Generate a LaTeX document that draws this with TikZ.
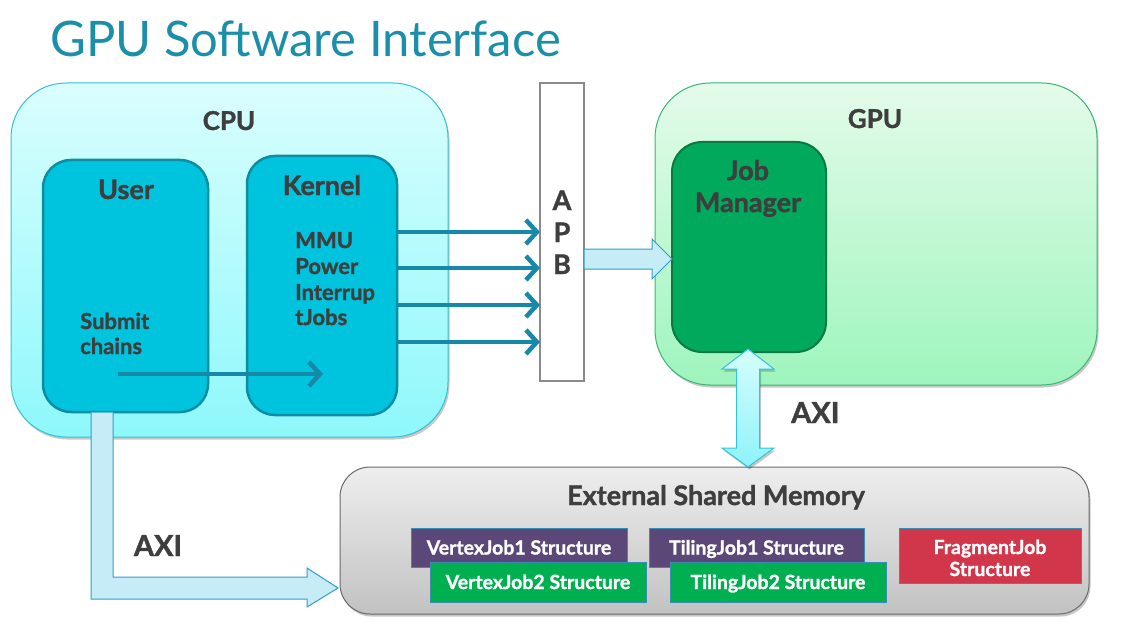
\documentclass[tikz,border=0pt]{standalone}
\usepackage{fontspec}
\setmainfont{Lato}[BoldFeatures={FakeBold=1.3}]
\usetikzlibrary{arrows.meta,shadows,calc}
\definecolor{titleteal}{HTML}{1B8FA9}
\definecolor{lblgray}{HTML}{3E3E3E}
\definecolor{cputop}{HTML}{DAFEFE}
\definecolor{cpubot}{HTML}{8EF8FB}
\definecolor{cpuline}{HTML}{38BFD3}
\definecolor{ukfill}{HTML}{00C4DD}
\definecolor{ukline}{HTML}{0B8DA2}
\definecolor{arrteal}{HTML}{1888A8}
\definecolor{gputop}{HTML}{E4FBEA}
\definecolor{gpubot}{HTML}{9EF5BD}
\definecolor{gpuline}{HTML}{3CB572}
\definecolor{jmfill}{HTML}{00A95B}
\definecolor{jmline}{HTML}{0A7A42}
\definecolor{fatfill}{HTML}{C6ECF8}
\definecolor{fatline}{HTML}{2EA0C8}
\definecolor{dbtop}{HTML}{D6FDFD}
\definecolor{dbbot}{HTML}{8EF3FB}
\definecolor{dbline}{HTML}{33C3DC}
\definecolor{memtop}{HTML}{EEEEEE}
\definecolor{membot}{HTML}{C2C2C2}
\definecolor{memline}{HTML}{6A6A6A}
\definecolor{purp}{HTML}{5B4878}
\definecolor{grn}{HTML}{00B050}
\definecolor{redj}{HTML}{D2364A}
\definecolor{sline}{HTML}{3A8CB0}
\definecolor{apbline}{HTML}{8A8A8A}
\tikzset{
  plainbox/.style={inner sep=0pt, outer sep=0pt},
  softshadow/.style={drop shadow={shadow xshift=1.5pt, shadow yshift=-2.5pt, opacity=0.22, fill=black}},
  lbl/.style={font=\bfseries\fontsize{26}{30}\selectfont, text=lblgray, inner sep=0pt, anchor=base},
  biglbl/.style={font=\bfseries\fontsize{27}{31}\selectfont, text=lblgray, inner sep=0pt, anchor=base},
  axilbl/.style={font=\bfseries\fontsize{29}{33}\selectfont, text=lblgray, inner sep=0pt, anchor=base},
  smalllbl/.style={font=\bfseries\fontsize{22}{26}\selectfont, text=lblgray, inner sep=0pt, anchor=base west},
  chev/.style={draw=arrteal, line width=4.5pt, -{Straight Barb[length=11pt,width=24pt]}},
  fatarrow/.style={fill=fatfill, draw=fatline, line width=1pt, line join=miter},
  structfont/.style={font=\bfseries\fontsize{19.5}{22}\selectfont, text=white},
  struct/.style={plainbox, draw=sline, line width=1pt, structfont, text height=14pt, text depth=0pt, align=center}
}
\begin{document}
\begin{tikzpicture}[x=1pt,y=-1pt]
\useasboundingbox (0,0) rectangle (1125,623);

% title
\node[anchor=base west, font=\fontsize{49}{55}\selectfont, text=titleteal, inner sep=0pt] (title) at (50,57) {GPU Software Interface};

% CPU
\node[plainbox, softshadow, draw=cpuline, line width=1pt, top color=cputop, bottom color=cpubot, rounded corners=55pt, minimum width=437pt, minimum height=354pt] (cpu) at (229.5,260) {};
\node[lbl] (cpulbl) at (229,130) {CPU};
\node[plainbox, draw=ukline, line width=2.5pt, fill=ukfill, rounded corners=28pt, minimum width=165pt, minimum height=252pt] (user) at (125.5,286) {};
\node[plainbox, draw=ukline, line width=2.5pt, fill=ukfill, rounded corners=28pt, minimum width=150pt, minimum height=259pt] (kernel) at (322,285.5) {};
\node[biglbl] (userlbl) at (126,199) {User};
\node[biglbl] (kernellbl) at (322,195) {Kernel};
\node[smalllbl] (mmu) at (295,248) {MMU};
\node[smalllbl] (power) at (295,274) {Power};
\node[smalllbl] (intr) at (295,300) {Interrup};
\node[smalllbl] (tjobs) at (295,325) {tJobs};
\node[smalllbl] (submit) at (80,329) {Submit};
\node[smalllbl] (chains) at (80,354) {chains};

% APB
\node[plainbox, draw=apbline, line width=1.5pt, fill=white, minimum width=44pt, minimum height=298pt] (apb) at (562,232) {};
\node[biglbl] (la) at (562,210) {A};
\node[biglbl] (lp) at (562,242) {P};
\node[biglbl] (lb) at (562,274) {B};

% GPU
\node[plainbox, softshadow, draw=gpuline, line width=1pt, top color=gputop, bottom color=gpubot, rounded corners=55pt, minimum width=442pt, minimum height=302pt] (gpu) at (876,234) {};
\node[lbl] (gpulbl) at (875,128) {GPU};
\node[plainbox, draw=jmline, line width=2pt, fill=jmfill, rounded corners=30pt, minimum width=154pt, minimum height=210pt] (jm) at (749,247) {};
\node[biglbl] (joblbl) at (748,180) {Job};
\node[biglbl] (mgrlbl) at (748,212) {Manager};

% Memory
\node[plainbox, softshadow, draw=memline, line width=1pt, top color=memtop, bottom color=membot, rounded corners=30pt, minimum width=749pt, minimum height=147pt] (mem) at (714.5,540.5) {};
\node[lbl, font=\bfseries\fontsize{27}{31}\selectfont] (memlbl) at (716,505) {External Shared Memory};
\node[struct, fill=purp, minimum width=216pt, minimum height=39pt] (vj1) at (519,547.5) {VertexJob1 Structure};
\node[struct, fill=grn, minimum width=216pt, minimum height=40pt] (vj2) at (538,582) {VertexJob2 Structure};
\node[struct, fill=purp, minimum width=215pt, minimum height=39pt] (tj1) at (756.5,547.5) {TilingJob1 Structure};
\node[struct, fill=grn, minimum width=216pt, minimum height=40pt] (tj2) at (778,582) {TilingJob2 Structure};
\node[plainbox, draw=sline, line width=1pt, fill=redj, minimum width=182pt, minimum height=55pt] (fj) at (990,555.5) {};
\node[structfont, inner sep=0pt, anchor=base] (fj1) at (990,554) {FragmentJob};
\node[structfont, inner sep=0pt, anchor=base] (fj2) at (990,576) {Structure};

% kernel -> APB arrows
\foreach \yy [count=\i] in {232,268,305,342}{
  \coordinate (k\i) at (0,\yy);
  \draw[chev] (kernel.east |- k\i) -- (apb.west |- k\i);
}
% submit arrow
\coordinate (sfrom) at (118,374);
\coordinate (sto) at (323,374);
\draw[chev] (sfrom) -- (sto);

% APB -> Job Manager fat arrow
\coordinate (ya) at (0,259);
\coordinate (a1s) at (apb.east |- ya);
\coordinate (a1e) at (jm.west |- ya);
\draw[fatarrow] ($(a1s)+(0,-10)$) -- ($(a1e)+(-20,-10)$) -- ($(a1e)+(-20,-20)$) -- (a1e) -- ($(a1e)+(-20,20)$) -- ($(a1e)+(-20,10)$) -- ($(a1s)+(0,10)$) -- cycle;

% AXI double arrow JM <-> memory
\coordinate (xd) at (748,0);
\coordinate (dt) at (jm.south -| xd);
\coordinate (db) at (mem.north -| xd);
\draw[softshadow, top color=dbtop, bottom color=dbbot, draw=dbline, line width=1pt, line join=miter]
  ($(dt)+(0,-3)$) -- ($(dt)+(26,17)$) -- ($(dt)+(11.5,17)$) -- ($(db)+(11.5,-19)$) -- ($(db)+(26,-19)$) -- (db)
  -- ($(db)+(-26,-19)$) -- ($(db)+(-11.5,-19)$) -- ($(dt)+(-11.5,17)$) -- ($(dt)+(-26,17)$) -- cycle;
\node[axilbl, anchor=base west] (axi2) at (791,423) {AXI};

% AXI L arrow user -> memory
\coordinate (xl) at (91,0);
\coordinate (ym) at (0,588);
\coordinate (us) at (user.south -| xl);
\coordinate (mw) at (mem.west |- ym);
\draw[fatarrow] (us) -- ($(us)+(22,0)$) -- ($(us |- mw)+(22,-11)$) -- ($(mw)+(-33,-11)$) -- ($(mw)+(-33,-20)$) -- ($(mw)+(-2,0)$) -- ($(mw)+(-33,19)$) -- ($(mw)+(-33,11)$) -- ($(us |- mw)+(0,11)$) -- cycle;
\node[axilbl] (axi1) at (158,556) {AXI};
\end{tikzpicture}
\end{document}
